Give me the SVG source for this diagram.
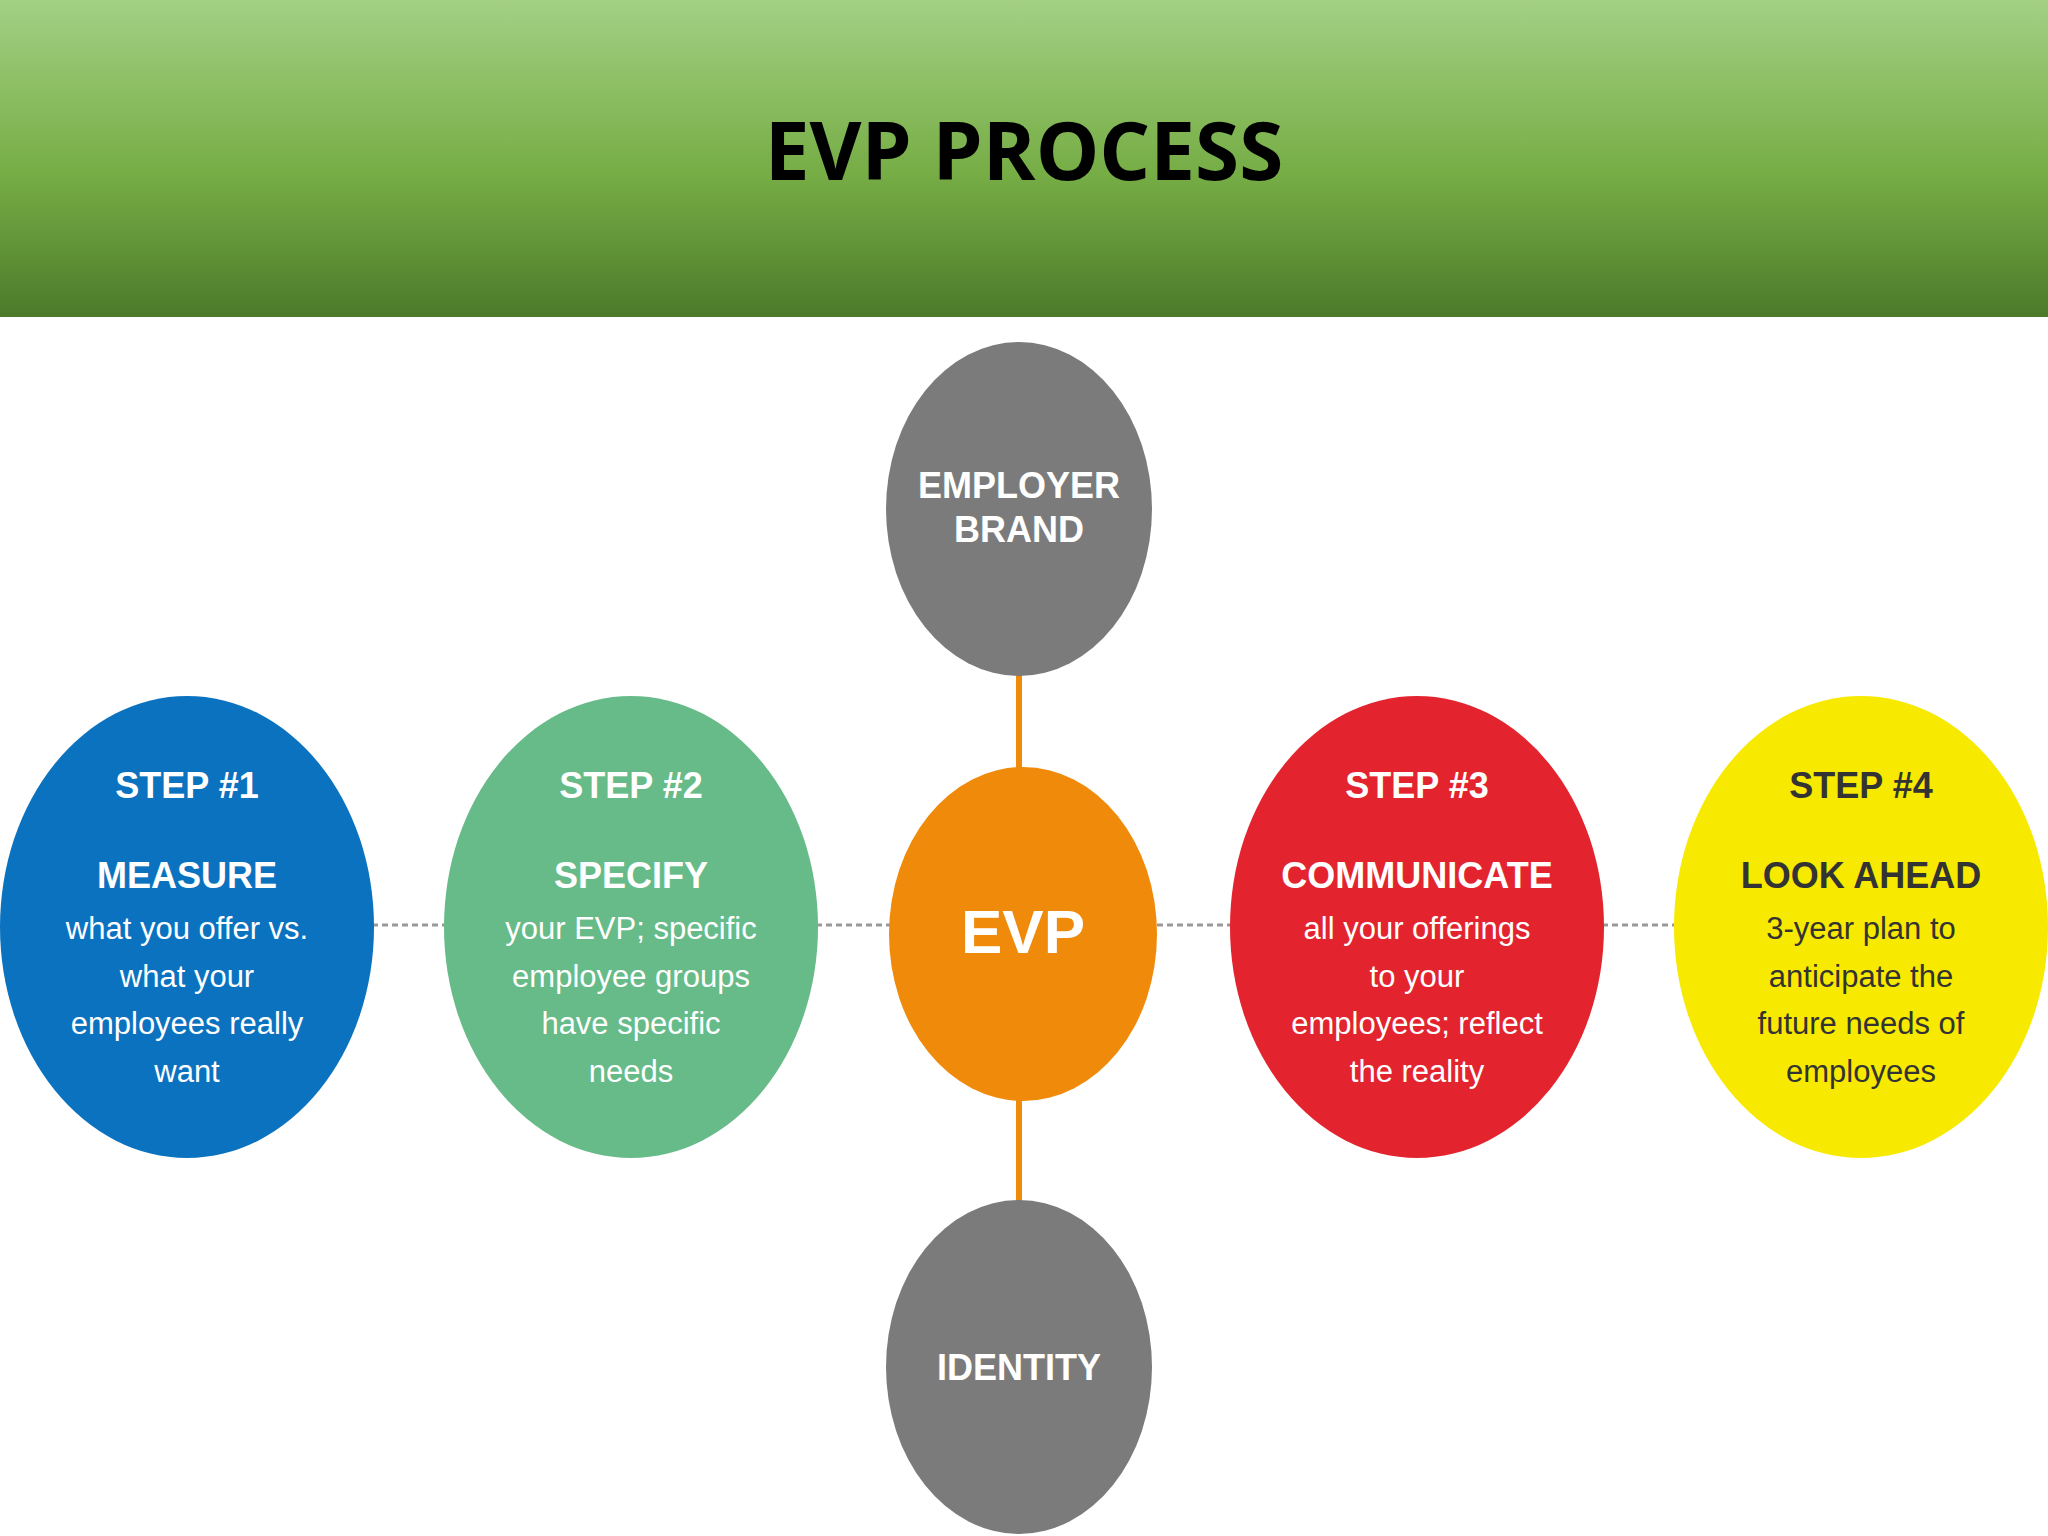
<svg xmlns="http://www.w3.org/2000/svg" width="2048" height="1536" viewBox="0 0 2048 1536">
<defs>
<linearGradient id="hg" x1="0" y1="0" x2="0" y2="1">
<stop offset="0" stop-color="#a3d084"/><stop offset="0.55" stop-color="#76ad45"/><stop offset="1" stop-color="#4c7a2a"/>
</linearGradient>
</defs>
<style>
text{font-family:"Liberation Sans",Arial,sans-serif;text-anchor:middle}
.h{font-weight:bold;font-size:36px;fill:#fff}
.b{font-size:31px;fill:#fff}
.dk{fill:#333}
.dash{stroke:#999;stroke-width:3;stroke-dasharray:6 4}
.or{stroke:#ef8a0a;stroke-width:6}
</style>
<rect width="2048" height="1536" fill="#fff"/>
<rect width="2048" height="317" fill="url(#hg)"/>
<text x="1024" y="180" font-family="Open Sans, sans-serif" font-weight="bold" font-size="80" fill="#000" style="font-family:'Open Sans',sans-serif">EVP PROCESS</text>
<g id="connectors">
<line class="or" x1="1019" y1="670" x2="1019" y2="775"/>
<line class="or" x1="1019" y1="1095" x2="1019" y2="1205"/>
<line class="dash" x1="372" y1="925" x2="446" y2="925"/>
<line class="dash" x1="816" y1="925" x2="890" y2="925"/>
<line class="dash" x1="1157" y1="925" x2="1232" y2="925"/>
<line class="dash" x1="1602" y1="925" x2="1676" y2="925"/>
</g>
<g id="employer-brand">
<ellipse cx="1019" cy="509" rx="133" ry="167" fill="#7b7b7b"/>
<text class="h" x="1019" y="498">EMPLOYER</text>
<text class="h" x="1019" y="542">BRAND</text>
</g>
<g id="identity">
<ellipse cx="1019" cy="1367" rx="133" ry="167" fill="#7b7b7b"/>
<text class="h" x="1019" y="1380">IDENTITY</text>
</g>
<g id="evp">
<ellipse cx="1023" cy="934" rx="134" ry="167" fill="#ef8a0a"/>
<text x="1023" y="953" font-weight="bold" font-size="62" fill="#fff">EVP</text>
</g>
<g id="step1">
<ellipse cx="187" cy="927" rx="187" ry="231" fill="#0b72c0"/>
<text class="h" x="187" y="798">STEP #1</text>
<text class="h" x="187" y="888">MEASURE</text>
<text class="b" x="187" y="939">what you offer vs.</text>
<text class="b" x="187" y="987">what your</text>
<text class="b" x="187" y="1034">employees really</text>
<text class="b" x="187" y="1082">want</text>
</g>
<g id="step2">
<ellipse cx="631" cy="927" rx="187" ry="231" fill="#66bb88"/>
<text class="h" x="631" y="798">STEP #2</text>
<text class="h" x="631" y="888">SPECIFY</text>
<text class="b" x="631" y="939">your EVP; specific</text>
<text class="b" x="631" y="987">employee groups</text>
<text class="b" x="631" y="1034">have specific</text>
<text class="b" x="631" y="1082">needs</text>
</g>
<g id="step3">
<ellipse cx="1417" cy="927" rx="187" ry="231" fill="#e3242f"/>
<text class="h" x="1417" y="798">STEP #3</text>
<text class="h" x="1417" y="888">COMMUNICATE</text>
<text class="b" x="1417" y="939">all your offerings</text>
<text class="b" x="1417" y="987">to your</text>
<text class="b" x="1417" y="1034">employees; reflect</text>
<text class="b" x="1417" y="1082">the reality</text>
</g>
<g id="step4">
<ellipse cx="1861" cy="927" rx="187" ry="231" fill="#f7e900"/>
<text class="h dk" x="1861" y="798">STEP #4</text>
<text class="h dk" x="1861" y="888">LOOK AHEAD</text>
<text class="b dk" x="1861" y="939">3-year plan to</text>
<text class="b dk" x="1861" y="987">anticipate the</text>
<text class="b dk" x="1861" y="1034">future needs of</text>
<text class="b dk" x="1861" y="1082">employees</text>
</g>
</svg>
